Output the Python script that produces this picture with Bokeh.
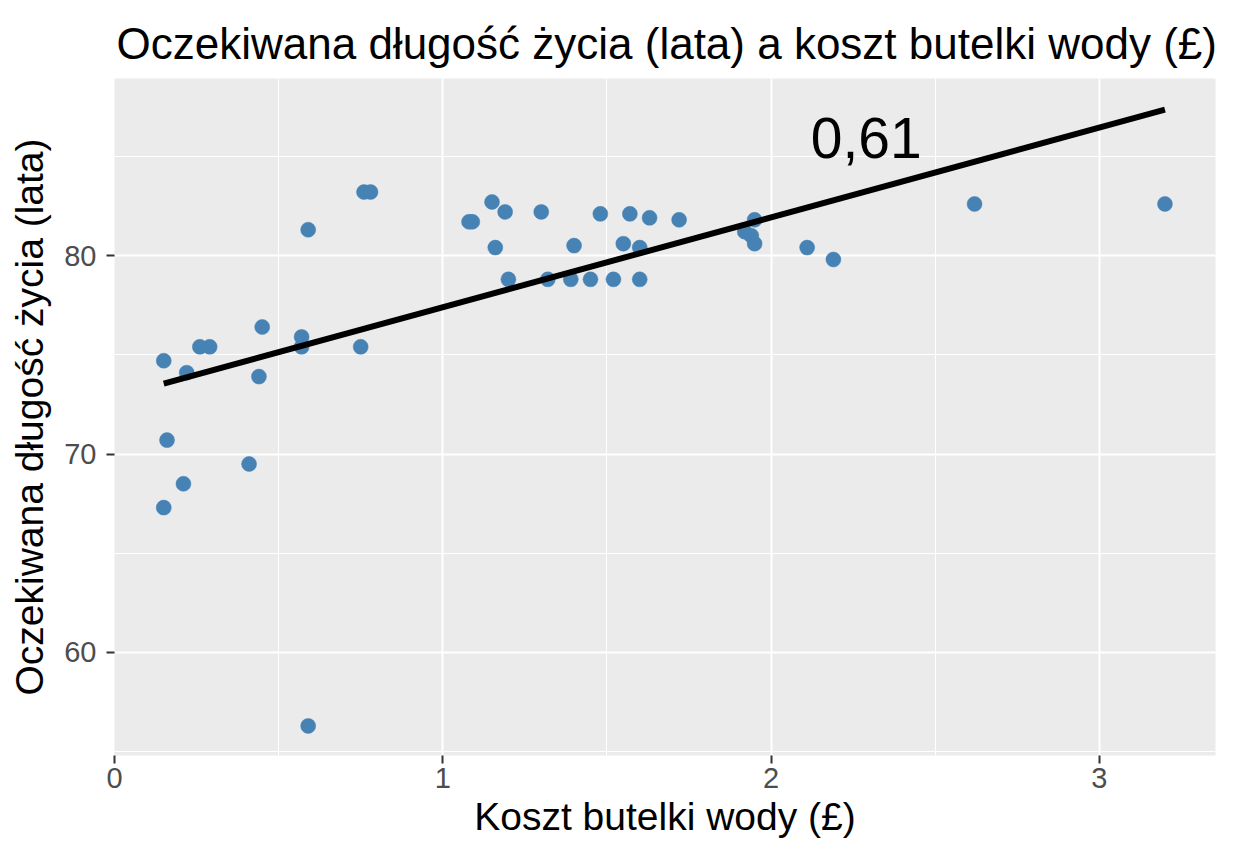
from bokeh.plotting import figure
from bokeh.models import Range1d, FixedTicker, ColumnDataSource
from bokeh.core.properties import value
from bokeh.embed import file_html
from bokeh.resources import INLINE

# ---- data ----
cost = [0.15, 0.16, 0.15, 0.21, 0.22, 0.26, 0.29, 0.41, 0.44, 0.45,
        0.57, 0.57, 0.59, 0.59, 0.75, 0.76, 0.78, 1.08, 1.09, 1.15,
        1.16, 1.19, 1.20, 1.30, 1.32, 1.40, 1.39, 1.45, 1.48, 1.52,
        1.55, 1.57, 1.60, 1.60, 1.63, 1.72, 1.95, 1.92, 1.94, 1.95,
        2.11, 2.19, 2.62, 3.20]
life = [74.7, 70.7, 67.3, 68.5, 74.1, 75.4, 75.4, 69.5, 73.9, 76.4,
        75.9, 75.4, 81.3, 56.3, 75.4, 83.2, 83.2, 81.7, 81.7, 82.7,
        80.4, 82.2, 78.8, 82.2, 78.8, 80.5, 78.8, 78.8, 82.1, 78.8,
        80.6, 82.1, 80.4, 78.8, 81.9, 81.8, 81.8, 81.2, 81.0, 80.6,
        80.4, 79.8, 82.6, 82.6]
fit_x = [0.15, 3.20]
fit_y = [73.55, 87.35]
ann_x = [2.29]
ann_y = [85.9]
ann_text = ["0,61"]
x_ticks = [0, 1, 2, 3]
x_minor = [0.5, 1.5, 2.5]
y_ticks = [60, 70, 80]
y_minor = [55, 65, 75, 85]

title_text = "Oczekiwana długość życia (lata) a koszt butelki wody (£)"
x_label = "Koszt butelki wody (£)"
y_label = "Oczekiwana długość życia (lata)"

FONT = "Liberation Sans"

p = figure(width=1234, height=864, output_backend="svg", toolbar_location=None,
           x_range=Range1d(0.0, 3.354), y_range=Range1d(54.81, 88.92),
           min_border_left=114, min_border_right=19, min_border_top=78,
           min_border_bottom=109, title=title_text)

p.background_fill_color = "#EBEBEB"
p.border_fill_color = "white"
p.outline_line_color = None

p.title.text_font = FONT
p.title.text_font_size = "44px"
p.title.text_font_style = "normal"
p.title.text_color = "black"
p.title.align = "left"
p.title.offset = 2
p.title.standoff = 22

p.xaxis.ticker = FixedTicker(ticks=x_ticks, minor_ticks=x_minor)
p.yaxis.ticker = FixedTicker(ticks=y_ticks, minor_ticks=y_minor)

for ax in (p.xaxis, p.yaxis):
    ax.axis_line_color = None
    ax.major_tick_line_color = "#333333"
    ax.major_tick_line_width = 2
    ax.major_tick_out = 8
    ax.major_tick_in = 0
    ax.minor_tick_line_color = None
    ax.major_label_text_font = FONT
    ax.major_label_text_font_size = "29px"
    ax.major_label_text_color = "#4D4D4D"
    ax.axis_label_text_font = FONT
    ax.axis_label_text_font_size = "39px"
    ax.axis_label_text_font_style = "normal"
    ax.axis_label_text_color = "black"

p.xaxis.axis_label = x_label
p.yaxis.axis_label = y_label
p.xaxis.major_label_standoff = 4
p.xaxis.axis_label_standoff = 4
p.yaxis.major_label_standoff = 10
p.yaxis.axis_label_standoff = 10

p.xgrid.grid_line_color = "white"
p.ygrid.grid_line_color = "white"
p.xgrid.grid_line_width = 2
p.ygrid.grid_line_width = 2
p.xgrid.minor_grid_line_color = "white"
p.ygrid.minor_grid_line_color = "white"
p.xgrid.minor_grid_line_width = 1
p.ygrid.minor_grid_line_width = 1

src = ColumnDataSource(dict(x=cost, y=life))
p.scatter("x", "y", source=src, size=15, fill_color="#4682B4",
          line_color="#4682B4", line_width=0.5)

p.line(fit_x, fit_y, line_color="black", line_width=6)

p.text(x=ann_x, y=ann_y, text=ann_text, text_font=value(FONT),
       text_font_size="57px", text_align="center", text_baseline="middle",
       text_color="black")

open("out.html", "w").write(file_html(p, INLINE))
